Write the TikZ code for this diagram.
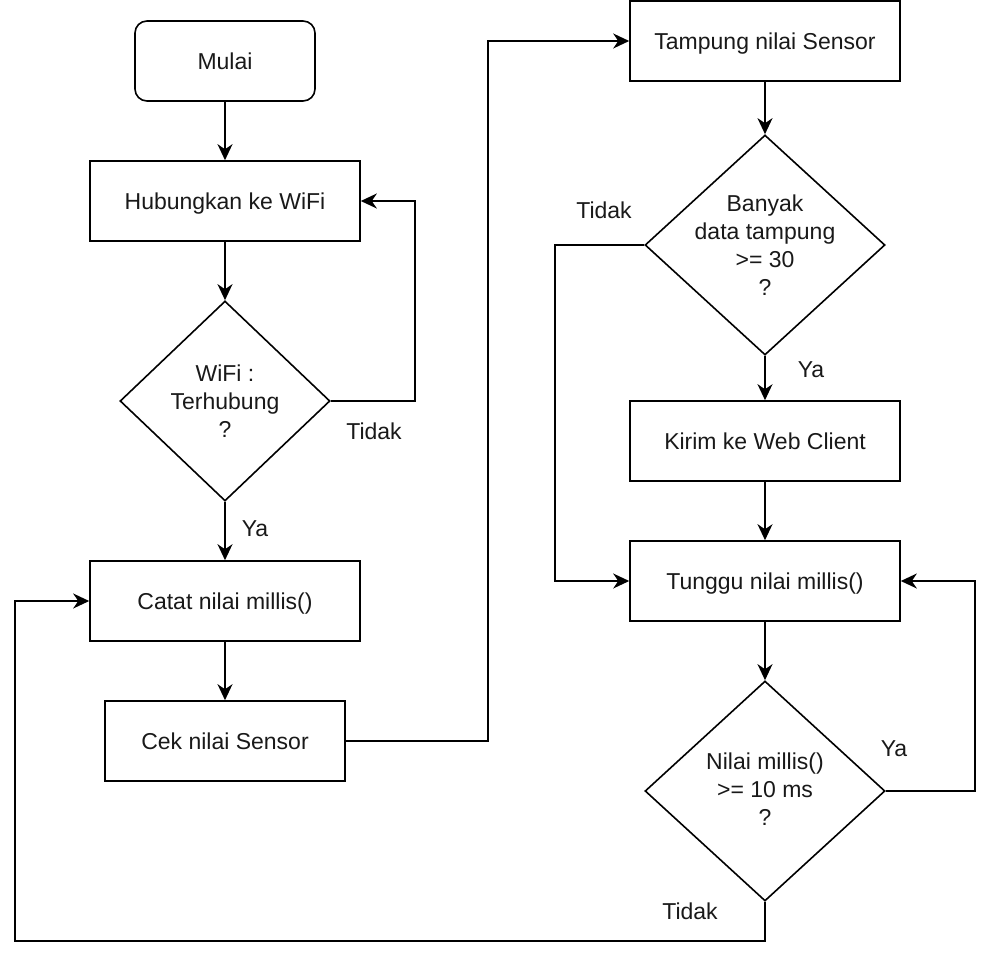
\documentclass[tikz,border=0pt]{standalone}
\usepackage{fontspec}
\setmainfont{Liberation Sans}
\usetikzlibrary{shapes.geometric,arrows.meta}
\begin{document}
\begin{tikzpicture}[x=1pt,y=-1pt,
  every node/.style={font=\fontsize{23}{28}\selectfont, text=black!90},
  box/.style={draw, line width=1.6pt, minimum width=270pt, minimum height=80pt, inner sep=0pt, align=center, text height=17pt, text depth=0.5pt},
  startbox/.style={box, rounded corners=12pt, minimum width=180pt},
  dia/.style={draw, diamond, line width=1.6pt, inner sep=0pt},
  txt/.style={align=center, inner sep=0pt},
  lbl/.style={inner sep=0pt},
  conn/.style={line width=1.6pt, -{Stealth[length=16pt, width=15pt, inset=5pt]}},
]
\useasboundingbox (0,0) rectangle (992,958);
% nodes
\node[startbox] (n1) at (225,61) {Mulai};
\node[box] (n2) at (225,201) {Hubungkan ke WiFi};
\node[dia, minimum width=210pt, minimum height=200pt] (d1) at (225,401) {};
\node[txt] (d1t) at (225,401) {WiFi :\\Terhubung\\?};
\node[box] (n3) at (225,601) {Catat nilai millis()};
\node[box, minimum width=240pt] (n4) at (225,741) {Cek nilai Sensor};
\node[box] (n5) at (765,41) {Tampung nilai Sensor};
\node[dia, minimum width=240pt, minimum height=220pt] (d2) at (765,245) {};
\node[txt] (d2t) at (765,245) {Banyak\\data tampung\\>= 30\\?};
\node[box] (n6) at (765,441) {Kirim ke Web Client};
\node[box] (n7) at (765,581) {Tunggu nilai millis()};
\node[dia, minimum width=240pt, minimum height=220pt] (d3) at (765,791) {};
\node[txt] (d3t) at (765,789) {Nilai millis()\\>= 10 ms\\?};
% labels
\node[lbl] (l1) at (374,431) {Tidak};
\node[lbl] (l2) at (255,529) {Ya};
\node[lbl] (l3) at (604,210) {Tidak};
\node[lbl] (l4) at (811,370) {Ya};
\node[lbl] (l5) at (894,749) {Ya};
\node[lbl] (l6) at (690,911) {Tidak};
% waypoints
\coordinate (w1) at (415,401);
\coordinate (w2) at (488,41);
\coordinate (w3) at (555,581);
\coordinate (w4) at (975,581);
\coordinate (w5) at (15,941);
% connectors
\draw[conn] (n1) -- (n2);
\draw[conn] (n2) -- (d1);
\draw[conn] (d1.east) -- (w1) |- (n2.east);
\draw[conn] (d1) -- (n3);
\draw[conn] (n3) -- (n4);
\draw[conn] (n4.east) -| (w2) -- (n5.west);
\draw[conn] (n5) -- (d2);
\draw[conn] (d2.west) -| (w3) -- (n7.west);
\draw[conn] (d2) -- (n6);
\draw[conn] (n6) -- (n7);
\draw[conn] (n7) -- (d3);
\draw[conn] (d3.east) -| (w4) -- (n7.east);
\draw[conn] (d3.south) |- (w5) |- (n3.west);
\end{tikzpicture}
\end{document}
